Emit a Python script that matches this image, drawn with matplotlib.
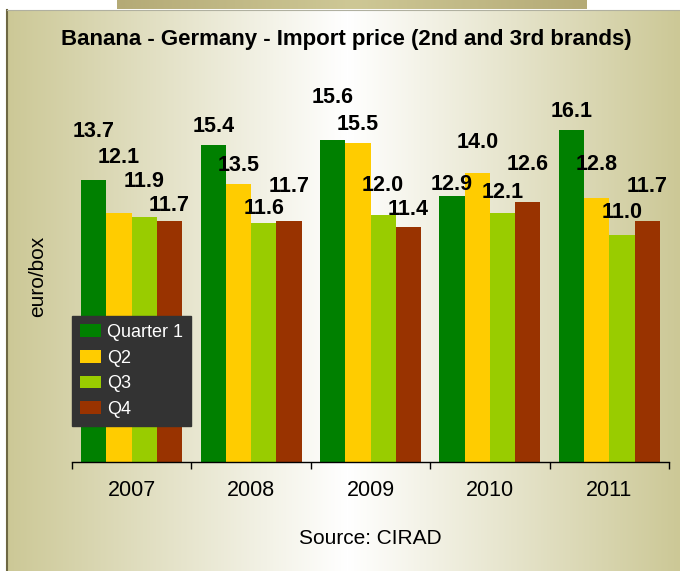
import numpy as np
import matplotlib.pyplot as plt
from matplotlib.patches import Rectangle
from matplotlib.legend_handler import HandlerPatch

plt.rcParams['font.family'] = ['Liberation Sans', 'DejaVu Sans']

years = ['2007', '2008', '2009', '2010', '2011']
quarters = ['Quarter 1', 'Q2', 'Q3', 'Q4']
q1 = [13.7, 15.4, 15.6, 12.9, 16.1]
q2 = [12.1, 13.5, 15.5, 14.0, 12.8]
q3 = [11.9, 11.6, 12.0, 12.1, 11.0]
q4 = [11.7, 11.7, 11.4, 12.6, 11.7]

colors = ['#008000', '#ffcc00', '#99cc00', '#993300']
# label heights above bar top (px), labels were moved by hand in the original
label_dy = [[48, 18, 43, 12, 19],
            [55, 18, 18, 31, 34],
            [35, 14, 29, 20, 23],
            [15, 34, 18, 38, 34]]


def gradient(w, h, center, edge_rgb, mid_rgb):
    xs = np.arange(w)
    t = np.where(xs < center, (center - xs) / center, (xs - center) / (w - center))
    t = np.clip(t, 0, 1)[None, :, None]
    edge = np.array(edge_rgb) / 255.0
    mid = np.array(mid_rgb) / 255.0
    img = mid * (1 - t) + edge * t
    return np.repeat(img, h, axis=0)


def square_handle(legend, orig_handle, xdescent, ydescent, width, height, fontsize):
    side = 0.68 * fontsize
    return Rectangle((-xdescent + width - side, -ydescent + (height - side) / 2), side, side)


W, H = 680, 571
fig = plt.figure(figsize=(W / 100, H / 100), dpi=100)

# panel background
bg = fig.add_axes([7 / W, 0, 673 / W, 561 / H])
bg.imshow(gradient(673, 10, 340, (204, 200, 150), (255, 255, 255)), aspect='auto')
bg.set_xticks([])
bg.set_yticks([])
for s in ['right', 'bottom']:
    bg.spines[s].set_visible(False)
bg.spines['left'].set_color('#6e6843')
bg.spines['left'].set_linewidth(1.5)
bg.spines['top'].set_color('#b0b0a0')

# tab on top
tab = fig.add_axes([117 / W, 562 / H, 470 / W, 9 / H])
tab.imshow(gradient(470, 5, 235, (180, 170, 118), (206, 200, 150)), aspect='auto')
tab.axis('off')

ax = fig.add_axes([72 / W, 109 / H, 597 / W, 371 / H])
ax.set_facecolor('none')

x = np.arange(len(years))
width = 0.2115
series = [q1, q2, q3, q4]
bars = []
for i, vals in enumerate(series):
    b = ax.bar(x + (i - 1.5) * width, vals, width, color=colors[i], label=quarters[i], zorder=2)
    bars.append(b)
    for j, rect in enumerate(b):
        ax.annotate('%.1f' % vals[j], (rect.get_x() + rect.get_width() / 2, rect.get_height()),
                    xytext=(0, label_dy[i][j] * 0.72), textcoords='offset points',
                    ha='center', va='center', fontsize=15.5, fontweight='bold')

ax.set_xlim(-0.5, len(years) - 0.5)
ax.set_ylim(0, 18)
ax.set_xticks(np.arange(len(years) + 1) - 0.5)
ax.set_xticklabels([])
ax.set_xticks(x, minor=True)
ax.set_xticklabels(years, minor=True, fontsize=15.5)
ax.tick_params(axis='x', which='major', direction='out', length=5, width=1)
ax.tick_params(axis='x', which='minor', length=0, pad=13)
ax.set_yticks([])
for s in ['left', 'right', 'top']:
    ax.spines[s].set_visible(False)
ax.spines['bottom'].set_linewidth(1)

ax.set_xlabel('Source: CIRAD', fontsize=15, labelpad=20)
ax.set_ylabel('euro/box', fontsize=15, labelpad=18)

fig.text(346 / W, 1 - 40 / H, 'Banana - Germany - Import price (2nd and 3rd brands)',
         ha='center', va='center', fontsize=16, fontweight='bold')

leg = ax.legend(handles=bars, loc='upper left', bbox_to_anchor=(0, 0.394), borderaxespad=0,
                fontsize=13, frameon=True, fancybox=False, facecolor='#333333', edgecolor='#333333',
                framealpha=1, handlelength=1.18, handletextpad=0.32, labelspacing=0.48, borderpad=0.45,
                handler_map={Rectangle: HandlerPatch(patch_func=square_handle)})
leg.set_zorder(5)
for t in leg.get_texts():
    t.set_color('white')

plt.savefig('out.png', dpi=100)
